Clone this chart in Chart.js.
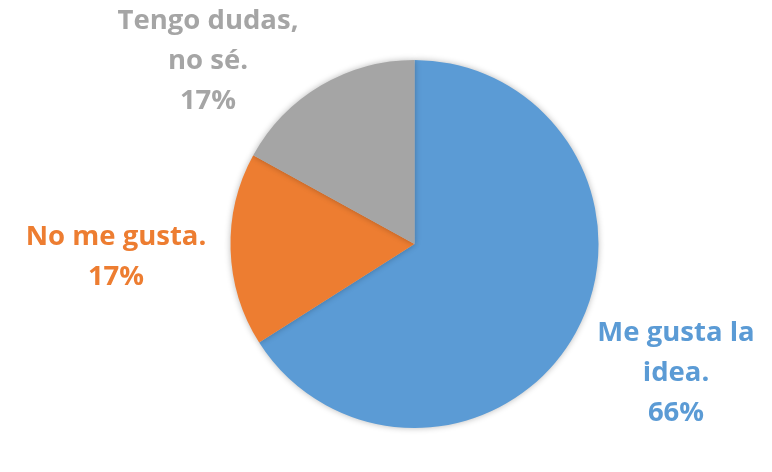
<!DOCTYPE html>
<html>
<head>
<meta charset="utf-8">
<script src="https://cdn.jsdelivr.net/npm/chart.js@4.4.0/dist/chart.umd.min.js"></script>
<style>
    html, body { margin: 0; padding: 0; background: #ffffff; }
    #wrap { width: 772px; height: 472px; position: relative; }
</style>
</head>
<body>
<div id="wrap"><canvas id="pieChart"></canvas></div>
<script>
/*
    Chart data
*/
const categories = [
    ["Me gusta la", "idea."],
    ["No me gusta."],
    ["Tengo dudas,", "no sé."]
];
const shares = [66, 17, 17];
const percentLabels = ["66%", "17%", "17%"];
const sliceColors = ["#5B9BD5", "#ED7D31", "#A5A5A5"];

/*
    Label placement (center of each text block)
*/
const labelAnchors = [
    { x: 676, y: 373 },
    { x: 116, y: 257 },
    { x: 208, y: 61 }
];

const shadowPlugin = {
    id: "pieShadow",
    beforeDatasetDraw(chart) {
        const ctx = chart.ctx;
        ctx.save();
        ctx.shadowColor = "rgba(0,0,0,0.28)";
        ctx.shadowBlur = 6;
        ctx.shadowOffsetX = 0;
        ctx.shadowOffsetY = 0;
    },
    afterDatasetDraw(chart) {
        chart.ctx.restore();
    }
};

const labelPlugin = {
    id: "sliceLabels",
    afterDatasetsDraw(chart) {
        const ctx = chart.ctx;
        const lineHeight = 40;
        ctx.save();
        ctx.font = "bold 27.5px 'Open Sans'";
        ctx.textAlign = "center";
        ctx.textBaseline = "middle";
        categories.forEach((lines, i) => {
            const all = lines.concat([percentLabels[i]]);
            const anchor = labelAnchors[i];
            const top = anchor.y - (all.length - 1) * lineHeight / 2;
            ctx.fillStyle = sliceColors[i];
            all.forEach((text, j) => {
                ctx.fillText(text, anchor.x, top + j * lineHeight);
            });
        });
        ctx.restore();
    }
};

new Chart(
    document.getElementById("pieChart"),
    {
        type: "pie",
        data: {
            labels: categories.map(c => c.join(" ")),
            datasets: [
                {
                    data: shares,
                    backgroundColor: sliceColors,
                    borderWidth: 0
                }
            ]
        },
        options: {
            responsive: true,
            maintainAspectRatio: false,
            animation: false,
            layout: {
                padding: { left: 230, right: 173, top: 60, bottom: 44 }
            },
            plugins: {
                legend: { display: false },
                tooltip: { enabled: false }
            }
        },
        plugins: [shadowPlugin, labelPlugin]
    }
);
</script>
</body>
</html>
